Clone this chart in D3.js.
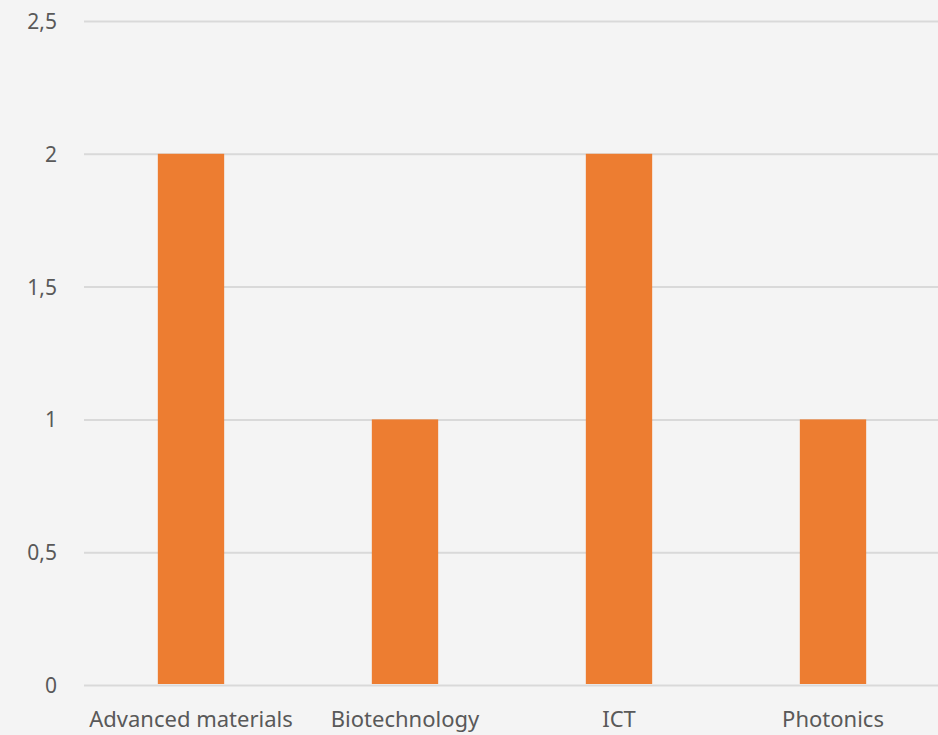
<!DOCTYPE html>
<html>
<head>
<meta charset="utf-8">
<script src="https://cdn.jsdelivr.net/npm/d3@7"></script>
<style>
  html, body { margin: 0; padding: 0; background: #f4f4f4; }
  svg { display: block; }
</style>
</head>
<body>
<div id="chart"></div>
<script>
const categories = ["Advanced materials", "Biotechnology", "ICT", "Photonics"];
const values = [2, 1, 2, 1];
const yTicks = [0, 0.5, 1, 1.5, 2, 2.5];

const canvas = { w: 938, h: 735 };
const plot = { left: 84, right: 940, top: 21, bottom: 685 };
const fontFam = "'Noto Sans', 'Open Sans', sans-serif";

const svg = d3.select("#chart")
    .append("svg")
    .attr("width", canvas.w)
    .attr("height", canvas.h)
    .attr("viewBox", `0 0 ${canvas.w} ${canvas.h}`);

svg.append("rect")
    .attr("width", canvas.w)
    .attr("height", canvas.h)
    .attr("fill", "#f4f4f4");

const x = d3.scaleBand()
    .domain(categories)
    .range([plot.left, plot.right])
    .paddingInner(0.69)
    .paddingOuter(0.345);

const y = d3.scaleLinear()
    .domain([0, 2.5])
    .range([plot.bottom, plot.top]);

// gridlines + y labels
const fmt = d => String(d).replace(".", ",");

const yAxis = svg.append("g")
    .attr("transform", `translate(${plot.left},0)`)
    .call(d3.axisLeft(y)
        .tickValues(yTicks)
        .tickSize(-(plot.right - plot.left))
        .tickPadding(27)
        .tickFormat(fmt))
    .attr("font-family", fontFam)
    .attr("font-size", 21);

yAxis.select(".domain").remove();
yAxis.selectAll(".tick line")
    .attr("stroke", "#d9d9d9")
    .attr("stroke-width", 2);
yAxis.selectAll(".tick text")
    .attr("fill", "#595959")
    .attr("dy", "0.36em");

// bars
svg.append("g")
    .selectAll("rect")
    .data(values)
    .join("rect")
    .attr("x", (d, i) => x(categories[i]))
    .attr("width", x.bandwidth())
    .attr("y", d => y(d))
    .attr("height", d => y(0) - y(d) - 1)
    .attr("fill", "#ed7d31");

// x labels
const xAxis = svg.append("g")
    .attr("transform", `translate(0,${plot.bottom})`)
    .call(d3.axisBottom(x).tickSize(0).tickPadding(26))
    .attr("font-family", fontFam)
    .attr("font-size", 22);

xAxis.select(".domain").remove();
xAxis.selectAll(".tick text")
    .attr("fill", "#595959");
</script>
</body>
</html>
